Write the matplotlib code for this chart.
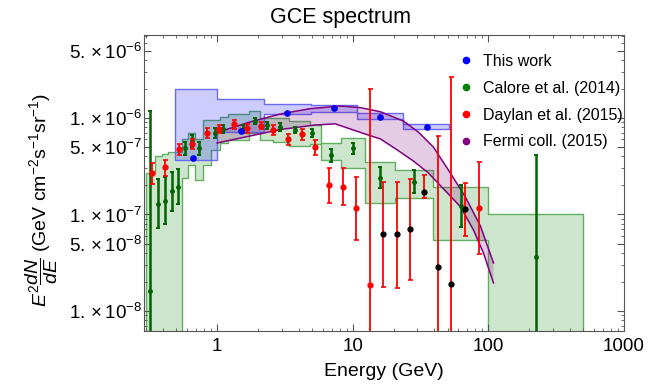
import numpy as np
import matplotlib
matplotlib.use("Agg")
import matplotlib.pyplot as plt
from matplotlib.ticker import FixedLocator, FixedFormatter, LogLocator, NullFormatter
from matplotlib.lines import Line2D

plt.rcParams["font.family"] = ["Liberation Sans", "DejaVu Sans"]
plt.rcParams["mathtext.fontset"] = "custom"
plt.rcParams["mathtext.rm"] = "Liberation Sans"
plt.rcParams["mathtext.it"] = "Liberation Sans:italic"
plt.rcParams["mathtext.bf"] = "Liberation Sans:bold"

# values that run off the bottom of the plot
FLOOR = 1e-9

# This work: binned band + points
this_edges = [0.49, 1.0, 2.2, 4.9, 10.8, 23.6, 51]
this_hi = [2.0e-6, 1.57e-6, 1.40e-6, 1.36e-6, 1.12e-6, 8.7e-7]
this_lo = [3.67e-7, 7.16e-7, 1.11e-6, 1.15e-6, 9.7e-7, 7.6e-7]
this_E = [0.665, 1.50, 3.29, 7.3, 16.0, 35.5]
this_val = [3.85e-7, 7.33e-7, 1.13e-6, 1.27e-6, 1.03e-6, 8.1e-7]

# Calore et al. (2014): systematic band + points with stat errors
calore_edges = [0.3, 0.35, 0.39, 0.435, 0.55, 0.61, 0.69, 0.79, 0.9, 1.05, 1.2, 1.72,
                2.08, 2.6, 3.4, 4.86, 5.8, 8.2, 12.4, 20.6, 39.3, 100, 500]
calore_band_hi = [2.69e-7, 4.04e-7, 4.24e-7, 4.39e-7, 6.06e-7, 6.99e-7, 6.06e-7, 9.5e-7,
                  9.5e-7, 1.02e-6, 1.10e-6, 1.18e-6, 1.0e-6, 1.0e-6, 9.3e-7, 8.46e-7,
                  5.51e-7, 6.21e-7, 3.5e-7, 2.89e-7, 1.93e-7, 1.01e-7]
calore_band_lo = [FLOOR, FLOOR, FLOOR, FLOOR, 2.39e-7, 3.26e-7, 2.28e-7, 3.26e-7,
                  4.66e-7, 5.51e-7, 5.92e-7, 6.99e-7, 5.92e-7, 5.64e-7, 5.13e-7, 5.38e-7,
                  3.67e-7, 3.03e-7, 1.32e-7, 1.48e-7, 5.44e-8, FLOOR]
calore_E = [0.32, 0.367, 0.413, 0.466, 0.515, 0.58, 0.653, 0.736, 0.967, 1.107, 1.556,
            1.91, 2.34, 2.92, 3.77, 5.02, 6.94, 10.1, 16.0, 28.4, 63.2, 226]
calore_val = [1.61e-8, 1.29e-7, 1.38e-7, 1.75e-7, 1.93e-7, 4.89e-7, 5.78e-7, 4.89e-7,
              6.99e-7, 7.69e-7, 7.69e-7, 9.3e-7, 8.46e-7, 8.07e-7, 7.51e-7, 6.99e-7,
              4.14e-7, 4.89e-7, 2.39e-7, 2.17e-7, 1.23e-7, 3.63e-8]
calore_hi = [1.18e-6, 2.33e-7, 2.45e-7, 2.76e-7, 2.96e-7, 5.64e-7, 6.67e-7, 5.64e-7,
             7.88e-7, 8.46e-7, 8.46e-7, 1.0e-6, 9.1e-7, 8.88e-7, 8.07e-7, 7.69e-7,
             4.77e-7, 5.51e-7, 3.1e-7, 2.89e-7, 2.02e-7, 4.14e-7]
calore_lo = [FLOOR, 7.25e-8, 7.97e-8, 1.09e-7, 1.29e-7, 4.14e-7, 5.0e-7, 4.14e-7,
             6.21e-7, 6.99e-7, 6.99e-7, 8.7e-7, 7.69e-7, 7.33e-7, 6.99e-7, 6.36e-7,
             3.5e-7, 4.24e-7, 1.88e-7, 1.67e-7, 7.42e-8, FLOOR]

# Daylan et al. (2015)
daylan_E = [0.330, 0.413, 0.524, 0.651, 0.839, 1.04, 1.32, 1.66, 2.10, 2.60, 3.32, 4.22,
            5.29, 6.63, 8.47, 10.6, 13.5, 16.8, 21.3, 26.6, 33.7, 42.7, 53.3, 67.6, 85.8]
daylan_val = [2.67e-7, 3.08e-7, 4.72e-7, 5.38e-7, 7.05e-7, 7.69e-7, 8.6e-7, 7.82e-7,
              8.32e-7, 7.51e-7, 6.02e-7, 6.78e-7, 4.97e-7, 2.02e-7, 1.94e-7, 1.16e-7,
              1.86e-8, 6.24e-8, 6.24e-8, 7.03e-8, 1.72e-7, 2.88e-8, 1.91e-8, 1.13e-7, 1.18e-7]
daylan_hi = [3.44e-7, 3.67e-7, 5.38e-7, 6.06e-7, 7.82e-7, 8.46e-7, 9.5e-7, 8.7e-7,
             9.16e-7, 8.46e-7, 6.83e-7, 7.64e-7, 5.92e-7, 3.01e-7, 3.01e-7, 2.43e-7,
             1.98e-6, 2.16e-7, 2.16e-7, 2.33e-7, 2.57e-7, 6.51e-7, 2.64e-6, 2.14e-7, 3.52e-7]
daylan_lo = [2.06e-7, 2.51e-7, 4.14e-7, 4.74e-7, 6.16e-7, 7.05e-7, 7.64e-7, 7.05e-7,
             7.64e-7, 6.67e-7, 5.25e-7, 5.92e-7, 4.14e-7, 1.31e-7, 1.25e-7, 5.44e-8,
             FLOOR, 1.76e-8, 1.75e-8, 2.09e-8, 1.47e-7, FLOOR, FLOOR, 5.98e-8, 3.87e-8]
# points whose central value is marked in black
daylan_black = [False] * 17 + [True] * 7 + [False]

# Fermi coll. (2015) band
fermi_up_E = [1.0, 1.75, 2.92, 4.86, 8.08, 11.4, 16.0, 23.6, 30.4, 39.3, 52.4, 67.6, 87.3, 109]
fermi_up = [7.08e-7, 9.1e-7, 1.10e-6, 1.25e-6, 1.33e-6, 1.28e-6, 1.16e-6, 9.3e-7,
            7.16e-7, 5.0e-7, 2.69e-7, 1.52e-7, 7.6e-8, 3.14e-8]
fermi_low_E = [1.0, 1.75, 2.92, 5.29, 7.42, 11.9, 16.0, 21.3, 28.0, 36.1, 48.3, 62.3, 77.6, 91.9, 109]
fermi_low = [5.51e-7, 6.51e-7, 7.6e-7, 8.46e-7, 8.7e-7, 6.94e-7, 6.06e-7, 4.66e-7,
             3.58e-7, 2.69e-7, 1.75e-7, 1.2e-7, 6.9e-8, 4.0e-8, 1.95e-8]

legend_labels = ["This work", "Calore et al. (2014)", "Daylan et al. (2015)", "Fermi coll. (2015)"]
x_ticks = [1, 10, 100, 1000]
x_ticklabels = ["1", "10", "100", "1000"]
y_ticks = [1e-8, 5e-8, 1e-7, 5e-7, 1e-6, 5e-6]
y_ticklabels = [r"$1.\times10^{-8}$", r"$5.\times10^{-8}$", r"$1.\times10^{-7}$",
                r"$5.\times10^{-7}$", r"$1.\times10^{-6}$", r"$5.\times10^{-6}$"]


def steps(vals):
    return list(vals) + [vals[-1]]


def errs(val, lo, hi):
    v = np.array(val)
    return [v - np.array(lo), np.array(hi) - v]


fig = plt.figure(figsize=(6.57, 3.85), dpi=100)
ax = fig.add_axes([0.2196, 0.1403, 0.7302, 0.7688])
ax.set_xscale("log")
ax.set_yscale("log")

# bands
ax.fill_between(calore_edges, steps(calore_band_lo), steps(calore_band_hi), step="post",
                facecolor=(0, 0.5, 0, 0.2), edgecolor="#62ae62", lw=1, zorder=1)
ax.fill_between(this_edges, steps(this_lo), steps(this_hi), step="post",
                facecolor=(0, 0, 1, 0.2), edgecolor="#6b6bf2", lw=1, zorder=2)
ax.fill(fermi_up_E + fermi_low_E[::-1], fermi_up + fermi_low[::-1],
        facecolor=(0.5, 0, 0.5, 0.2), edgecolor="none", zorder=3)
ax.plot(fermi_up_E, fermi_up, color="#800080", lw=1.1, zorder=4)
ax.plot(fermi_low_E, fermi_low, color="#800080", lw=1.1, zorder=4)

# points
ax.errorbar(calore_E, calore_val, yerr=errs(calore_val, calore_lo, calore_hi), fmt="o",
            ms=2.5, color="#006400", elinewidth=1.8, capsize=1.6, capthick=1.4, zorder=5)
ax.errorbar(daylan_E, daylan_val, yerr=errs(daylan_val, daylan_lo, daylan_hi), fmt="none",
            ecolor="#ff0000", elinewidth=1.3, capsize=1.8, capthick=1.2, zorder=6)
red = [(e, v) for e, v, b in zip(daylan_E, daylan_val, daylan_black) if not b]
blk = [(e, v) for e, v, b in zip(daylan_E, daylan_val, daylan_black) if b]
ax.plot(*zip(*red), "o", ms=3.5, color="#ff0000", zorder=7)
ax.plot(*zip(*blk), "o", ms=3.5, color="black", zorder=7)
ax.plot(this_E, this_val, "o", ms=3.8, color="#0000ee", zorder=8)

# axes
ax.set_xlim(0.29, 1000)
ax.set_ylim(6.2e-9, 7.25e-6)
ax.xaxis.set_major_locator(FixedLocator(x_ticks))
ax.xaxis.set_major_formatter(FixedFormatter(x_ticklabels))
ax.xaxis.set_minor_locator(LogLocator(base=10, subs=np.arange(2, 10), numticks=20))
ax.xaxis.set_minor_formatter(NullFormatter())
ax.yaxis.set_major_locator(FixedLocator(y_ticks))
ax.yaxis.set_major_formatter(FixedFormatter(y_ticklabels))
ax.yaxis.set_minor_locator(LogLocator(base=10, subs=np.arange(2, 10), numticks=20))
ax.yaxis.set_minor_formatter(NullFormatter())
ax.tick_params(which="both", direction="in", top=True, right=True, color="#555555")
ax.tick_params(which="major", length=5, width=0.8, labelsize=13.5)
ax.tick_params(axis="x", which="major", pad=5)
ax.tick_params(axis="y", which="major", pad=1.5)
ax.tick_params(which="minor", length=2.5, width=0.6)
for s in ax.spines.values():
    s.set_color("#555555")

fig.text(340 / 657, 1 - 18 / 385, "GCE spectrum", ha="center", va="center", fontsize=15.5)
fig.text(384 / 657, 1 - 371 / 385, "Energy (GeV)", ha="center", va="center", fontsize=14)
fig.text(42 / 657, 1 - 200 / 385,
         r"$E^2\dfrac{dN}{dE}$ (GeV cm$^{-2}$s$^{-1}$sr$^{-1}$)",
         rotation=90, ha="center", va="center", fontsize=14)

handles = [Line2D([], [], ls="none", marker="o", ms=4.5, color=c)
           for c in ["#0000ff", "#008000", "#ff0000", "#800080"]]
ax.legend(handles, legend_labels, loc="upper left", bbox_to_anchor=(0.657, 0.936),
          frameon=False, fontsize=11.5, handlelength=0.8, handletextpad=0.66,
          labelspacing=0.74, borderpad=0, borderaxespad=0)

fig.savefig("out.png", dpi=100)
